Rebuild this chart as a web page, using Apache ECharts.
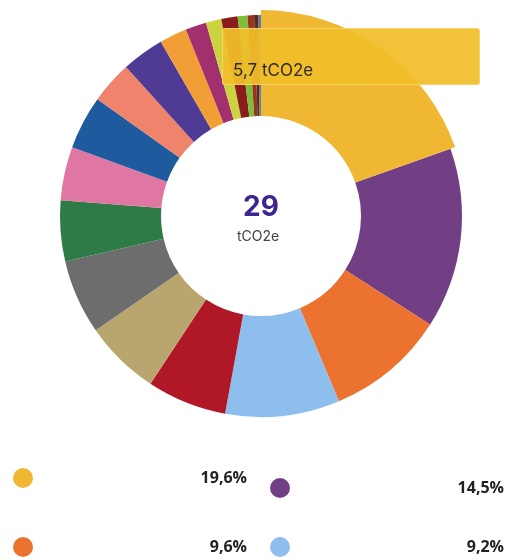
<!DOCTYPE html>
<html>
<head>
<meta charset="utf-8">
<title>Empreinte carbone</title>
<script src="https://cdn.jsdelivr.net/npm/echarts@6.0.0/dist/echarts.min.js"></script>
<style>
  html, body { margin: 0; padding: 0; background: #ffffff; }
  #chart { width: 510px; height: 560px; }
</style>
</head>
<body>
<div id="chart"></div>
<script>
// Emission categories, in drawing order (clockwise from 12 o'clock)
const categories = [
  'Poste 1', 'Poste 2', 'Poste 3', 'Poste 4', 'Poste 5',
  'Poste 6', 'Poste 7', 'Poste 8', 'Poste 9', 'Poste 10',
  'Poste 11', 'Poste 12', 'Poste 13', 'Poste 14', 'Poste 15',
  'Poste 16', 'Poste 17', 'Poste 18', 'Poste 19', 'Poste 20'
];
// Emissions per category, tCO2e
const emissions = [
  5.68, 4.21, 2.78, 2.67, 1.86,
  1.77, 1.74, 1.42, 1.25, 1.25,
  0.99, 0.99, 0.64, 0.49, 0.36,
  0.38, 0.23, 0.15, 0.09, 0.07
];
const sliceColors = [
  '#F0B732', '#733F84', '#EC722F', '#8DBEEE', '#B11827',
  '#B9A66F', '#6D6D6D', '#2E7B48', '#DF77A2', '#1D5A9E',
  '#EF836B', '#4F3B94', '#F29E37', '#A2306E', '#CDD23F',
  '#8A1C1B', '#7DBD38', '#9A3422', '#5A2A1A', '#6A7A99'
];
const unit = 'tCO2e';
// Category whose detail box is shown
const focusIndex = 0;

const total = emissions.reduce((a, b) => a + b, 0);
const fmt = (v, d) => v.toFixed(d).replace('.', ',');
const pctOf = name => fmt(emissions[categories.indexOf(name)] / total * 100, 1) + '%';

const CX = 261, CY = 216;
const baseFont = 'Inter, Roboto, "Liberation Sans", sans-serif';
const tipBg = 'rgba(241,190,42,0.93)';

const chart = echarts.init(document.getElementById('chart'), null, { renderer: 'canvas' });

function legendColumn(names, left, top, gap, textWidth) {
  return {
    show: true,
    type: 'plain',
    orient: 'vertical',
    left: left,
    top: top,
    height: 900,
    padding: 0,
    itemWidth: 20,
    itemHeight: 20,
    itemGap: gap,
    icon: 'circle',
    selectedMode: false,
    data: names,
    formatter: name => '{p|' + pctOf(name) + '}',
    textStyle: {
      rich: {
        p: {
          width: textWidth,
          align: 'right',
          lineHeight: 20,
          fontSize: 16,
          fontWeight: 'bold',
          color: '#222222',
          fontFamily: '"Open Sans", ' + baseFont
        }
      }
    }
  };
}

const leftNames = categories.filter((_, i) => i % 2 === 0);
const rightNames = categories.filter((_, i) => i % 2 === 1);

chart.setOption({
  animation: false,
  color: sliceColors,
  tooltip: {
    trigger: 'item',
    triggerOn: 'none',
    alwaysShowContent: true,
    position: [222, 28],
    transitionDuration: 0,
    padding: 0,
    backgroundColor: tipBg,
    borderColor: 'rgba(250,214,110,0.9)',
    borderWidth: 1,
    borderRadius: 3,
    extraCssText: 'box-shadow:none;',
    formatter: p =>
      '<div style="position:relative;width:256px;height:55px;">' +
        '<div style="position:absolute;left:10px;top:31px;line-height:20px;font-size:17px;color:#2b2b2b;font-family:' + baseFont.replace(/"/g, "'") + ';">' +
          fmt(p.value, 1) + ' ' + unit +
        '</div>' +
        '<div style="position:absolute;left:124px;bottom:-7px;width:0;height:0;' +
          'border-left:6px solid transparent;border-right:6px solid transparent;border-top:6px solid ' + tipBg + ';"></div>' +
      '</div>'
  },
  legend: [
    legendColumn(leftNames, 13, 468, 49, 209),
    legendColumn(rightNames, 270, 478, 39, 209)
  ],
  graphic: [
    {
      type: 'text',
      x: CX, y: CY - 8,
      style: {
        text: String(Math.round(total)),
        align: 'center', verticalAlign: 'middle',
        fontSize: 28, fontWeight: 'bold',
        fill: '#3E2490',
        fontFamily: baseFont
      }
    },
    {
      type: 'text',
      x: CX - 3, y: CY + 21,
      style: {
        text: unit,
        align: 'center', verticalAlign: 'middle',
        fontSize: 14,
        fill: '#444444',
        fontFamily: baseFont
      }
    }
  ],
  series: [{
    type: 'pie',
    center: [CX, CY],
    radius: [100, 201],
    startAngle: 90,
    clockwise: true,
    avoidLabelOverlap: false,
    label: { show: false },
    labelLine: { show: false },
    itemStyle: { borderWidth: 0 },
    emphasis: { scale: true, scaleSize: 5, label: { show: false } },
    data: categories.map((name, i) => ({
      name: name,
      value: emissions[i],
      // keep the slice colour unchanged when it is highlighted
      emphasis: { itemStyle: { color: sliceColors[i] } }
    }))
  }]
});

chart.dispatchAction({ type: 'highlight', seriesIndex: 0, dataIndex: focusIndex });
chart.dispatchAction({ type: 'showTip', seriesIndex: 0, dataIndex: focusIndex });
</script>
</body>
</html>
